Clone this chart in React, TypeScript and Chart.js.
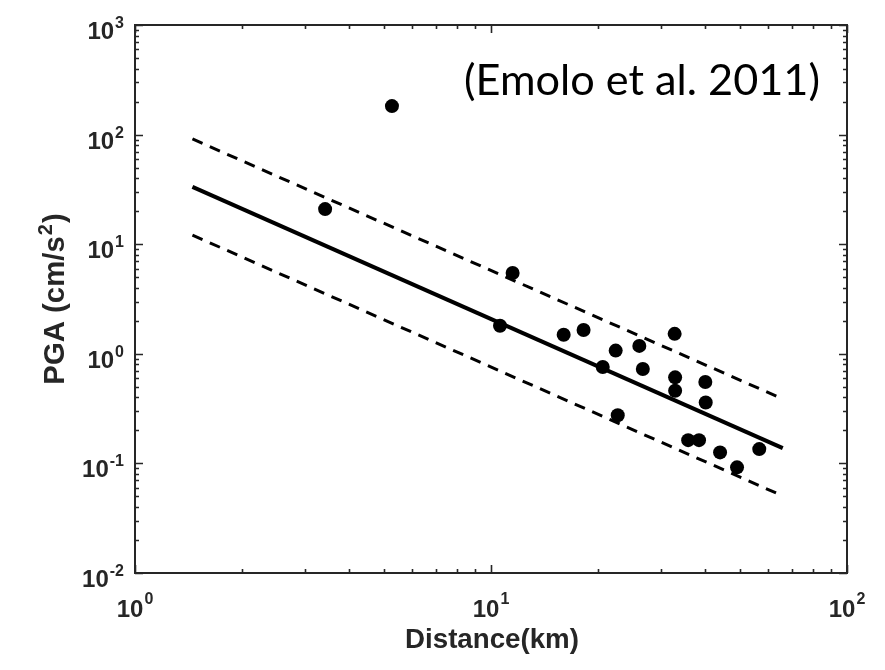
import React, { useEffect, useRef } from 'react';
import { Chart, registerables } from 'chart.js';
Chart.register(...registerables);

// Observed data (distance in km, PGA in cm/s^2)
const distanceKm = [3.42, 5.27, 11.5, 10.6, 16.0, 18.2, 22.4, 20.6, 26.1, 26.7, 32.8, 32.9, 32.9, 40.0, 40.1, 22.7, 35.8, 38.4, 44.0, 49.1, 56.7];
const pgaCms2 = [20.9, 182, 5.46, 1.8, 1.49, 1.65, 1.07, 0.759, 1.18, 0.726, 1.52, 0.61, 0.46, 0.553, 0.36, 0.275, 0.163, 0.163, 0.126, 0.092, 0.135];

// GMPE (Emolo et al. 2011) median and +/- one sigma, at the two ends of the range
const fitDistance = [1.45, 66];
const fitMedian = [33.3, 0.138];
const fitUpper = [91.2, 0.387];
const fitLower = [12.1, 0.0505];

// Axis decades and tick exponents
const xDecades = [1, 10, 100];
const xExponents = ['0', '1', '2'];
const yDecades = [0.01, 0.1, 1, 10, 100, 1000];
const yExponents = ['-2', '-1', '0', '1', '2', '3'];

const xTitle = 'Distance(km)';
const yTitleMain = 'PGA (cm/s';
const yTitleSup = '2';
const yTitleEnd = ')';
const annotation = '(Emolo et al. 2011)';

const AXIS_COLOR = '#262626';
const SANS = '"Liberation Sans", Arial, sans-serif';

function pts(xs: number[], ys: number[]) {
  return xs.map((x, i) => ({ x, y: ys[i] }));
}

const overlayPlugin = {
  id: 'matlabOverlay',
  afterDraw(chart: any) {
    const ctx: CanvasRenderingContext2D = chart.ctx;
    const { left, right, top, bottom } = chart.chartArea;
    const xs = chart.scales.x;
    const ys = chart.scales.y;
    ctx.save();
    ctx.strokeStyle = AXIS_COLOR;
    ctx.fillStyle = AXIS_COLOR;
    ctx.lineWidth = 2;
    // Box
    ctx.strokeRect(left, top, right - left, bottom - top);
    // Ticks
    const majorLen = 8;
    const minorLen = 4;
    const minorsBetween = (decs: number[]) => {
      const out: number[] = [];
      for (let i = 0; i < decs.length - 1; i++) {
        for (let k = 2; k <= 9; k++) out.push(decs[i] * k);
      }
      return out;
    };
    ctx.lineWidth = 1.6;
    ctx.beginPath();
    const xTick = (v: number, len: number) => {
      const px = Math.round(xs.getPixelForValue(v)) + 0.5;
      ctx.moveTo(px, bottom);
      ctx.lineTo(px, bottom - len);
      ctx.moveTo(px, top);
      ctx.lineTo(px, top + len);
    };
    const yTick = (v: number, len: number) => {
      const py = Math.round(ys.getPixelForValue(v)) + 0.5;
      ctx.moveTo(left, py);
      ctx.lineTo(left + len, py);
      ctx.moveTo(right, py);
      ctx.lineTo(right - len, py);
    };
    xDecades.forEach((v) => xTick(v, majorLen));
    minorsBetween(xDecades).forEach((v) => xTick(v, minorLen));
    yDecades.forEach((v) => yTick(v, majorLen));
    minorsBetween(yDecades).forEach((v) => yTick(v, minorLen));
    ctx.stroke();

    // Tick labels: 10^n
    const baseFont = `bold 24px ${SANS}`;
    const supFont = `bold 16px ${SANS}`;
    ctx.textBaseline = 'alphabetic';
    ctx.textAlign = 'left';
    const drawPow = (exp: string, anchorX: number, baseY: number, supY: number, mode: 'center' | 'right') => {
      ctx.font = baseFont;
      const wb = ctx.measureText('10').width;
      ctx.font = supFont;
      const ws = ctx.measureText(exp).width;
      const total = wb + ws + 1;
      const start = mode === 'center' ? anchorX - total / 2 : anchorX - total;
      ctx.font = baseFont;
      ctx.fillText('10', start, baseY);
      ctx.font = supFont;
      ctx.fillText(exp, start + wb + 1, supY);
    };
    xDecades.forEach((v, i) => {
      const px = xs.getPixelForValue(v);
      drawPow(xExponents[i], px, bottom + 44, bottom + 31, 'center');
    });
    yDecades.forEach((v, i) => {
      const py = ys.getPixelForValue(v);
      drawPow(yExponents[i], left - 11, py + 14, py + 3, 'right');
    });

    // X title
    const fit = (text: string, weight: string, family: string, target: number) => {
      ctx.font = `${weight} 100px ${family}`;
      const w = ctx.measureText(text).width;
      return (100 * target) / w;
    };
    const xSize = fit(xTitle, 'bold', SANS, 174);
    ctx.font = `bold ${xSize}px ${SANS}`;
    ctx.textAlign = 'center';
    ctx.fillText(xTitle, (left + right) / 2 + 1, bottom + 75);

    // Y title (rotated)
    const ySize = xSize * 1.06;
    const ySup = Math.round(ySize * 0.68);
    ctx.save();
    ctx.translate(64, (top + bottom) / 2);
    ctx.rotate(-Math.PI / 2);
    ctx.font = `bold ${ySize}px ${SANS}`;
    const w1 = ctx.measureText(yTitleMain).width;
    const w3 = ctx.measureText(yTitleEnd).width;
    ctx.font = `bold ${ySup}px ${SANS}`;
    const w2 = ctx.measureText(yTitleSup).width;
    const tot = w1 + w2 + w3 + 2;
    let sx = -tot / 2;
    ctx.textAlign = 'left';
    ctx.font = `bold ${ySize}px ${SANS}`;
    ctx.fillText(yTitleMain, sx, 0);
    sx += w1 + 1;
    ctx.font = `bold ${ySup}px ${SANS}`;
    ctx.fillText(yTitleSup, sx, -12);
    sx += w2 + 1;
    ctx.font = `bold ${ySize}px ${SANS}`;
    ctx.fillText(yTitleEnd, sx, 0);
    ctx.restore();

    // Annotation
    const annFamily = 'Lato, "Open Sans", sans-serif';
    const aSize = fit(annotation, 'normal', annFamily, 356);
    ctx.font = `normal ${aSize}px ${annFamily}`;
    ctx.fillStyle = '#000000';
    ctx.textAlign = 'left';
    ctx.fillText(annotation, 464, 95);
    ctx.restore();
  },
};

export default function App() {
  const canvasRef = useRef<HTMLCanvasElement | null>(null);
  useEffect(() => {
    if (!canvasRef.current) return;
    const chart = new Chart(canvasRef.current, {
      type: 'scatter',
      data: {
        datasets: [
          {
            label: 'Observed',
            data: pts(distanceKm, pgaCms2),
            pointRadius: 7,
            pointBackgroundColor: '#000000',
            pointBorderWidth: 0,
            showLine: false,
          },
          {
            label: 'Median',
            data: pts(fitDistance, fitMedian),
            showLine: true,
            borderColor: '#000000',
            borderWidth: 4,
            pointRadius: 0,
          },
          {
            label: '+sigma',
            data: pts(fitDistance, fitUpper),
            showLine: true,
            borderColor: '#000000',
            borderWidth: 3,
            borderDash: [11, 8],
            pointRadius: 0,
          },
          {
            label: '-sigma',
            data: pts(fitDistance, fitLower),
            showLine: true,
            borderColor: '#000000',
            borderWidth: 3,
            borderDash: [11, 8],
            pointRadius: 0,
          },
        ],
      },
      options: {
        responsive: false,
        animation: false,
        events: [],
        layout: { padding: { left: 135, top: 25, right: 38, bottom: 97 } },
        scales: {
          x: { type: 'logarithmic', min: 1, max: 100, display: false },
          y: { type: 'logarithmic', min: 0.01, max: 1000, display: false },
        },
        plugins: { legend: { display: false }, tooltip: { enabled: false } },
      },
      plugins: [overlayPlugin],
    });
    return () => chart.destroy();
  }, []);
  return (
    <div style={{ position: 'absolute', left: 0, top: 0, width: 885, height: 670, background: '#ffffff' }}>
      <canvas ref={canvasRef} width={885} height={670} style={{ display: 'block' }} />
    </div>
  );
}
